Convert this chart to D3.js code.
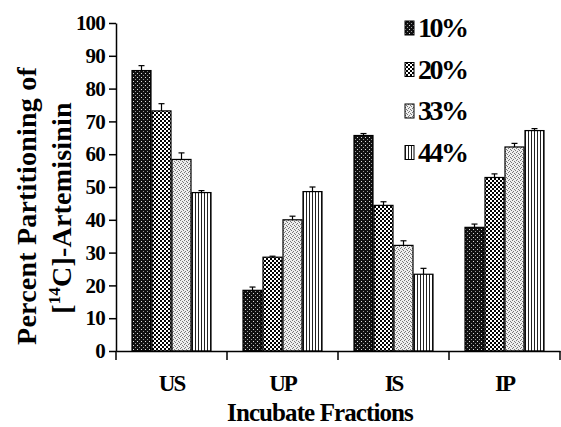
<!DOCTYPE html>
<html><head><meta charset="utf-8">
<script src="https://cdn.jsdelivr.net/npm/d3@7"></script>
<style>body{margin:0;background:#fff}svg{display:block}</style>
</head><body><div id="c"></div>
<script>
const categories = ["US","UP","IS","IP"];
const seriesNames = ["10%","20%","33%","44%"];
const v10 = [85.5, 18.5, 65.7, 37.7];
const v20 = [73.2, 28.6, 44.4, 52.9];
const v33 = [58.4, 40.0, 32.2, 62.2];
const v44 = [48.3, 48.6, 23.4, 67.2];
const e10 = [1.5, 1.0, 0.6, 1.0];
const e20 = [2.2, 0.3, 1.1, 1.1];
const e33 = [2.0, 1.1, 1.4, 1.1];
const e44 = [0.6, 1.4, 1.8, 0.6];
const yTicks = [0,10,20,30,40,50,60,70,80,90,100];

(function(){
const values = [v10,v20,v33,v44], errs=[e10,e20,e33,e44];
const W=561,H=427;
const svg=d3.select("#c").append("svg").attr("width",W).attr("height",H);
const defs=svg.append("defs");
let p=defs.append("pattern").attr("id","p0").attr("patternUnits","userSpaceOnUse").attr("width",4).attr("height",4);
p.append("rect").attr("width",4).attr("height",4).attr("fill","#111");
p.append("rect").attr("x",1).attr("y",1).attr("width",1).attr("height",1).attr("fill","#ddd");
p.append("rect").attr("x",3).attr("y",3).attr("width",1).attr("height",1).attr("fill","#999");
p=defs.append("pattern").attr("id","p1").attr("patternUnits","userSpaceOnUse").attr("width",4).attr("height",4);
p.append("rect").attr("width",4).attr("height",4).attr("fill","#fff");
p.append("rect").attr("width",2).attr("height",2).attr("fill","#000");
p.append("rect").attr("x",2).attr("y",2).attr("width",2).attr("height",2).attr("fill","#000");
p=defs.append("pattern").attr("id","p2").attr("patternUnits","userSpaceOnUse").attr("width",4).attr("height",4);
p.append("rect").attr("width",4).attr("height",4).attr("fill","#eee");
[[0,0],[2,1],[1,3],[3,2]].forEach(d=>p.append("rect").attr("x",d[0]).attr("y",d[1]).attr("width",1).attr("height",1).attr("fill","#777"));
p=defs.append("pattern").attr("id","p3").attr("patternUnits","userSpaceOnUse").attr("width",3).attr("height",3);
p.append("rect").attr("width",3).attr("height",3).attr("fill","#fff");
p.append("rect").attr("x",0).attr("width",1).attr("height",3).attr("fill","#222");

const mL=116,mR=560,mT=23,mB=351;
const x=d3.scaleBand().domain(categories).range([mL,mR]).padding(0);
const x1=d3.scaleBand().domain(seriesNames).range([15.5, x.bandwidth()-15.5]).padding(0);
const y=d3.scaleLinear().domain([0,100]).range([mB,mT]);
const font="'Liberation Serif', 'Times New Roman', serif";

seriesNames.forEach((s,si)=>{
  const g=svg.append("g");
  categories.forEach((c,ci)=>{
    const val=values[si][ci], e=errs[si][ci];
    const bx=x(c)+x1(s), bw=x1.bandwidth();
    g.append("rect").attr("x",bx+0.5).attr("y",y(val)).attr("width",bw-1).attr("height",y(0)-y(val))
      .attr("fill",`url(#p${si})`).attr("stroke","#000").attr("stroke-width",1.2);
    const cx=bx+bw/2;
    g.append("line").attr("x1",cx).attr("x2",cx).attr("y1",y(val)).attr("y2",y(val+e)).attr("stroke","#000").attr("stroke-width",1.2);
    g.append("line").attr("x1",cx-3).attr("x2",cx+3).attr("y1",y(val+e)).attr("y2",y(val+e)).attr("stroke","#000").attr("stroke-width",1.2);
  });
});

const ya=svg.append("g").attr("transform",`translate(${mL},0)`)
  .call(d3.axisLeft(y).tickValues(yTicks).tickSize(7).tickSizeOuter(0).tickPadding(4));
ya.select(".domain").attr("stroke-width",1.5);
ya.selectAll("line").attr("stroke-width",1.5);
ya.selectAll("text").attr("font-family",font).attr("font-weight","bold").attr("font-size",21).attr("letter-spacing",-0.8).attr("fill","#000");

const xa=svg.append("g").attr("transform",`translate(0,${mB})`)
  .call(d3.axisBottom(x).tickSize(0).tickPadding(24));
xa.select(".domain").attr("stroke-width",1.5);
xa.selectAll("text").attr("font-family",font).attr("font-weight","bold").attr("font-size",23).attr("letter-spacing",-2).attr("fill","#000");
const bnds=categories.map(c=>x(c)).concat([mR]);
xa.selectAll(".bt").data(bnds).join("line").attr("class","bt").attr("x1",d=>d).attr("x2",d=>d).attr("y1",0).attr("y2",9).attr("stroke","#000").attr("stroke-width",1.5);

svg.append("text").attr("x",320).attr("y",421).attr("text-anchor","middle").attr("font-family",font).attr("font-weight","bold").attr("font-size",25).attr("letter-spacing",-0.9).text("Incubate Fractions");
const yt=svg.append("text").attr("transform","translate(0,206) rotate(-90)").attr("text-anchor","middle").attr("font-family",font).attr("font-weight","bold").attr("font-size",28).attr("letter-spacing",0.2);
yt.append("tspan").attr("x",0).attr("y",36).text("Percent Partitioning of");
const yt2=svg.append("text").attr("transform","translate(0,208) rotate(-90)").attr("text-anchor","middle").attr("font-family",font).attr("font-weight","bold").attr("font-size",28).attr("letter-spacing",0.2).attr("x",0).attr("y",71);
yt2.append("tspan").text("[");
yt2.append("tspan").attr("font-size",17).attr("dy",-11).text("14");
yt2.append("tspan").attr("dy",11).text("C]-Artemisinin");

const lg=svg.append("g");
seriesNames.forEach((s,i)=>{
  const cy=28+i*41.5;
  lg.append("rect").attr("x",405).attr("y",cy-7).attr("width",9).attr("height",14).attr("fill",`url(#p${i})`).attr("stroke","#000").attr("stroke-width",1);
  lg.append("text").attr("x",418).attr("y",cy+9).attr("font-family",font).attr("font-weight","bold").attr("font-size",28).attr("letter-spacing",-2.5).text(s);
});
})();
</script></body></html>
